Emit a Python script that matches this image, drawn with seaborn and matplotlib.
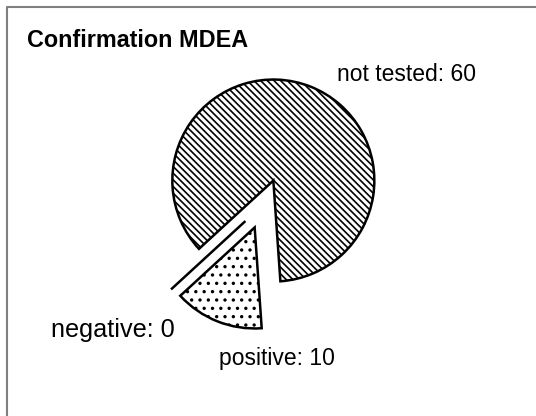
import matplotlib.pyplot as plt
import seaborn as sns
from matplotlib.lines import Line2D

# данные
categories = ['not tested', 'negative', 'positive']
counts = [60, 0, 10]
title = 'Confirmation MDEA'

# оформление
hatches = ['\\' * 5, '', '..']
label_pos = [(0.723, 1.221), (-2.109, -1.314), (-0.446, -1.594)]
label_size = [16.5, 18.2, 16.5]

sns.set_theme(style='white')
plt.rcParams['font.family'] = ['Liberation Sans', 'DejaVu Sans']
plt.rcParams['hatch.linewidth'] = 1.2
plt.rcParams['hatch.color'] = 'black'

fig = plt.figure(figsize=(5.36, 4.16), dpi=100)
ax = fig.add_axes([0, 0, 1, 1])

wedges, texts = ax.pie(
    counts,
    labels=[f'{c}: {v}' for c, v in zip(categories, counts)],
    startangle=-86,
    explode=[0.25] * len(counts),
    colors=['white'] * len(counts),
    wedgeprops=dict(edgecolor='black', linewidth=1.8),
    textprops=dict(color='black'),
)
for w, h in zip(wedges, hatches):
    w.set_hatch(h)
for t, p, s in zip(texts, label_pos, label_size):
    t.set_position(p)
    t.set_fontsize(s)
    t.set_ha('left')
    t.set_va('baseline')

# 1 единица радиуса = 101 px, центр пирога в (264, 204) px
r = 101
ax.set_xlim(-264 / r, (536 - 264) / r)
ax.set_ylim(-(416 - 204) / r, 204 / r)
ax.axis('off')

fig.text(27 / 536, 1 - 46.7 / 416, title, fontsize=16.8, fontweight='bold',
         color='black', va='baseline', ha='left')

# рамка (видны только левая и верхняя стороны)
fig.add_artist(Line2D([6.5 / 536, 6.5 / 536, 1], [0, 1 - 6.5 / 416, 1 - 6.5 / 416],
                      transform=fig.transFigure, color='#808080', lw=1.5))

fig.savefig('out.png', dpi=100)
